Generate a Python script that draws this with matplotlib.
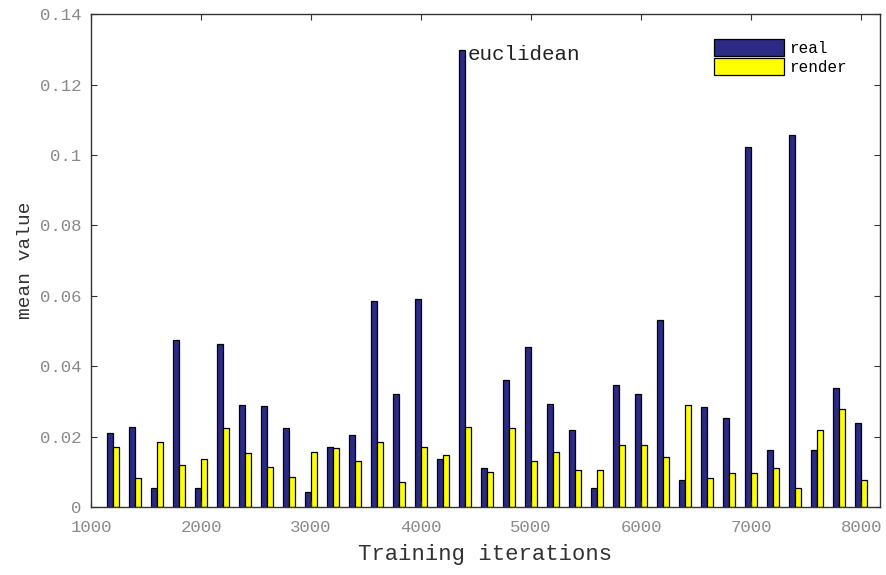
import matplotlib
matplotlib.use("Agg")
import matplotlib.pyplot as plt
import numpy as np

# training iterations (group centres)
iterations = list(range(1200, 8001, 200))

real = [0.0210, 0.0228, 0.0054, 0.0474, 0.0054, 0.0462, 0.0289, 0.0286, 0.0224, 0.0044,
        0.0172, 0.0205, 0.0584, 0.0322, 0.0590, 0.0138, 0.1298, 0.0110, 0.0362, 0.0455,
        0.0294, 0.0219, 0.0054, 0.0346, 0.0322, 0.0531, 0.0077, 0.0285, 0.0252, 0.1024,
        0.0163, 0.1056, 0.0163, 0.0338, 0.0238]
render = [0.0171, 0.0082, 0.0186, 0.0119, 0.0138, 0.0224, 0.0153, 0.0115, 0.0086, 0.0158,
          0.0167, 0.0130, 0.0185, 0.0072, 0.0172, 0.0148, 0.0228, 0.0101, 0.0224, 0.0130,
          0.0158, 0.0105, 0.0105, 0.0176, 0.0176, 0.0143, 0.0289, 0.0082, 0.0096, 0.0096,
          0.0110, 0.0054, 0.0219, 0.0280, 0.0077]

x_ticks = [1000, 2000, 3000, 4000, 5000, 6000, 7000, 8000]
y_ticks = [0, 0.02, 0.04, 0.06, 0.08, 0.1, 0.12, 0.14]
y_tick_labels = ["0", "0.02", "0.04", "0.06", "0.08", "0.1", "0.12", "0.14"]

mono = "Liberation Mono"
fig = plt.figure(figsize=(8.87, 5.75), dpi=100)
ax = fig.add_axes([0.1026, 0.118, 0.8894, 0.8574])

x = np.array(iterations)
w = 55
ax.bar(x - w / 2, real, width=w, color="#2B2A85", edgecolor="black", linewidth=0.9, label="real")
ax.bar(x + w / 2, render, width=w, color="#FFFF00", edgecolor="black", linewidth=0.9, label="render")

ax.set_xlim(1000, 8170)
ax.set_ylim(0, 0.14)
ax.set_xticks(x_ticks)
ax.set_yticks(y_ticks)
ax.set_yticklabels(y_tick_labels)
ax.tick_params(direction="in", length=4, top=True, right=True, labelsize=12.5,
               labelcolor="#8a8a8a", color="#333333")
ax.tick_params(axis="x", pad=9)
ax.tick_params(axis="y", pad=7)
for lbl in ax.get_xticklabels() + ax.get_yticklabels():
    lbl.set_family(mono)
for sp in ax.spines.values():
    sp.set_color("#333333")
    sp.set_linewidth(1.0)

ax.set_xlabel("Training iterations", fontsize=16, family=mono, color="#333333", labelpad=7)
ax.set_ylabel("mean value", fontsize=14, family=mono, color="#333333", labelpad=4)

ax.text(4420, 0.1285, "euclidean", fontsize=15, family=mono, color="#222222",
        ha="left", va="center")

leg = ax.legend(loc="upper right", bbox_to_anchor=(0.976, 0.978), frameon=False,
                prop={"family": mono, "size": 11.5}, handlelength=4.4, handleheight=1.2,
                handletextpad=0.3, labelspacing=0.15)

fig.savefig("out.png", dpi=100)
